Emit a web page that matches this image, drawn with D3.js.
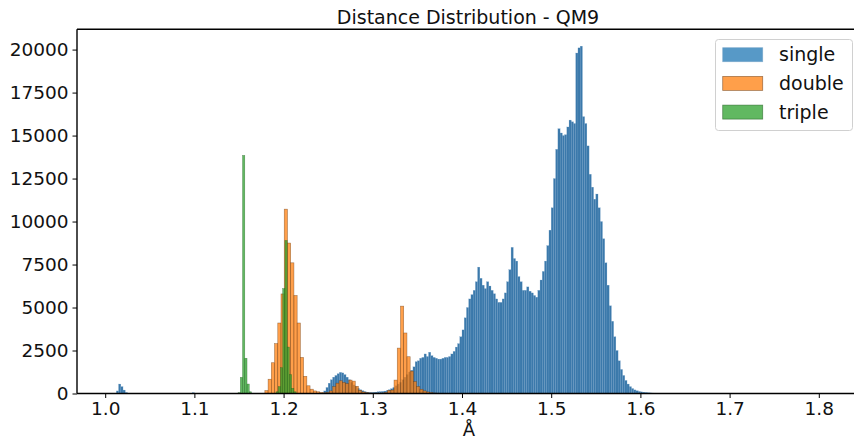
<!DOCTYPE html>
<html>
<head>
<meta charset="utf-8">
<script src="https://cdn.jsdelivr.net/npm/d3@7"></script>
<style>
  html, body { margin: 0; padding: 0; background: #fff; }
  svg { display: block; font-family: "DejaVu Sans", sans-serif; }
</style>
</head>
<body>
<svg id="chart" width="854" height="439"></svg>
<script>
// ---------------- data ----------------
const seriesNames = ["single", "double", "triple"];

// single bonds: bins of 0.0025 Å starting at 1.010 Å
const singleStart = 1.010;
const singleWidth = 0.0025;
const singleCounts = [
  0,150,550,400,200,60,0,0,0,0,
  0,0,0,0,0,0,0,0,0,0,
  0,0,0,0,0,0,0,0,0,0,
  0,0,0,0,0,50,0,0,0,0,
  0,0,0,0,0,0,0,0,0,0,
  0,0,0,0,0,0,0,0,0,0,
  0,0,0,0,0,0,0,0,0,0,
  0,0,0,0,0,0,0,0,0,0,
  0,0,0,0,0,0,0,0,0,0,
  0,0,0,0,150,350,600,800,950,1050,
  1150,1230,1200,1100,950,800,650,500,400,300,
  220,160,110,80,60,60,70,80,100,110,
  120,140,170,220,280,350,450,550,650,800,
  950,1100,1250,1350,1550,1850,1900,2050,2100,2300,
  2150,2400,2200,2100,2050,2000,2000,2050,2100,2100,
  2150,2300,2450,2700,2900,3300,3700,4400,5000,5500,
  5750,6000,6500,7350,6700,6300,6100,6500,6250,6000,
  5800,5500,5300,5300,5500,5850,6500,7200,8500,7850,
  7700,6800,6500,6000,6000,6200,5950,5850,5700,5600,
  6000,6600,7100,7700,8600,9500,10800,12500,14200,15400,
  15150,15000,15050,15500,15900,15800,15700,19800,20100,20200,
  16100,15700,14400,12750,12000,11300,11600,10800,10000,9000,
  7600,6300,5100,4200,3300,2500,1900,1400,1050,760,
  550,400,290,210,160,120,95,75,60,45,
  35,28,22,18,14,10,8,5
];

// double bonds: bins of 0.00362 Å starting at 1.179 Å
const doubleStart = 1.179;
const doubleWidth = 0.00362;
const doubleCounts = [
  170,830,1790,2900,4100,5790,10720,8750,7600,5700,
  4100,2100,1000,450,250,150,100,60,40,60,
  150,400,600,740,640,570,780,720,420,180,
  90,50,30,20,20,20,30,60,180,200,
  780,2640,5080,3520,2140,1300,690,400,245,150,
  90,50,30,20
];

// triple bonds: bins of 0.0025 Å starting at 1.149 Å
const tripleStart = 1.149;
const tripleWidth = 0.0025;
const tripleCounts = [
  50,940,13845,2050,550,100,0,0,0,0,
  0,0,0,0,0,0,0,100,400,1500,
  6100,8900,2700,1100,300,100
];

const xTicks = [1.0, 1.1, 1.2, 1.3, 1.4, 1.5, 1.6, 1.7, 1.8];
const yTicks = [0, 2500, 5000, 7500, 10000, 12500, 15000, 17500, 20000];

// ---------------- layout ----------------
const svg = d3.select("#chart");
const plotLeft = 77, plotRight = 861, plotTop = 29.3, plotBottom = 393.5;

const x = d3.scaleLinear().domain([0.9684, 1.8473]).range([plotLeft, plotRight]);
const y = d3.scaleLinear().domain([0, 21180]).range([plotBottom, plotTop]);

const colors = {
  single: "#1f77b4",
  double: "#ff7f0e",
  triple: "#2ca02c"
};

function bins(start, width, counts) {
  return counts.map((c, i) => ({ x0: start + i * width, x1: start + (i + 1) * width, c }))
               .filter(d => d.c > 0);
}

const series = [
  { name: "single", data: bins(singleStart, singleWidth, singleCounts), fill: "#3b79ab", fop: 1, stroke: "#6d9dc5", sw: 0.3, sop: 0.7 },
  { name: "double", data: bins(doubleStart, doubleWidth, doubleCounts), fill: colors.double, fop: 0.75, stroke: "#6b3a10", sw: 0.6, sop: 0.6 },
  { name: "triple", data: bins(tripleStart, tripleWidth, tripleCounts), fill: colors.triple, fop: 0.75, stroke: "#1d5a1d", sw: 0.5, sop: 0.6 }
];

svg.append("clipPath").attr("id", "plotclip")
  .append("rect").attr("x", plotLeft).attr("y", plotTop)
  .attr("width", plotRight - plotLeft).attr("height", plotBottom - plotTop);

const gBars = svg.append("g").attr("clip-path", "url(#plotclip)");
series.forEach(s => {
  gBars.append("g").selectAll("rect").data(s.data).enter().append("rect")
    .attr("x", d => x(d.x0))
    .attr("width", d => x(d.x1) - x(d.x0))
    .attr("y", d => y(d.c))
    .attr("height", d => y(0) - y(d.c))
    .attr("fill", s.fill)
    .attr("fill-opacity", s.fop)
    .attr("stroke", s.stroke)
    .attr("stroke-opacity", s.sop)
    .attr("stroke-width", s.sw);
});

// axes
const xAxis = d3.axisBottom(x).tickValues(xTicks).tickFormat(d3.format(".1f")).tickSizeOuter(0).tickSize(4.5).tickPadding(4);
const yAxis = d3.axisLeft(y).tickValues(yTicks).tickFormat(d3.format("d")).tickSizeOuter(0).tickSize(4.5).tickPadding(4);

const gx = svg.append("g").attr("transform", `translate(0,${plotBottom})`).call(xAxis);
const gy = svg.append("g").attr("transform", `translate(${plotLeft},0)`).call(yAxis);
[gx, gy].forEach(g => {
  g.select(".domain").remove();
  g.selectAll(".tick line").attr("stroke", "#000").attr("stroke-width", 1);
  g.selectAll(".tick text").attr("fill", "#111").style("font-size", "18.5px").style("font-family", "DejaVu Sans, sans-serif");
});

// spines
svg.append("line").attr("x1", plotLeft).attr("x2", plotLeft).attr("y1", plotTop).attr("y2", plotBottom)
  .attr("stroke", "#000").attr("stroke-width", 1.4);
svg.append("line").attr("x1", plotLeft).attr("x2", plotRight).attr("y1", plotBottom).attr("y2", plotBottom)
  .attr("stroke", "#000").attr("stroke-width", 1.4);
svg.append("line").attr("x1", plotLeft).attr("x2", plotRight).attr("y1", plotTop).attr("y2", plotTop)
  .attr("stroke", "#000").attr("stroke-width", 1.4);

// title and x label
svg.append("text").attr("x", 468).attr("y", 24).attr("text-anchor", "middle")
  .style("font-size", "19px").attr("fill", "#111").text("Distance Distribution - QM9");
svg.append("text").attr("x", 469).attr("y", 435.5).attr("text-anchor", "middle")
  .style("font-size", "18px").attr("fill", "#111").text("Å");

// legend
const leg = svg.append("g");
leg.append("rect").attr("x", 715.5).attr("y", 39.5).attr("width", 137).attr("height", 91).attr("rx", 3)
  .attr("fill", "#fff").attr("fill-opacity", 0.8).attr("stroke", "#d0d0d0").attr("stroke-width", 1);
seriesNames.forEach((n, i) => {
  const yy = 47.7 + i * 28.7;
  leg.append("rect").attr("x", 722.7).attr("y", yy).attr("width", 40).attr("height", 14)
    .attr("fill", colors[n]).attr("fill-opacity", 0.75)
    .attr("stroke", series[i].stroke).attr("stroke-opacity", 0.6).attr("stroke-width", 0.8);
  leg.append("text").attr("x", 779).attr("y", yy + 13.5).style("font-size", "19px").attr("fill", "#111").text(n);
});
</script>
</body>
</html>
